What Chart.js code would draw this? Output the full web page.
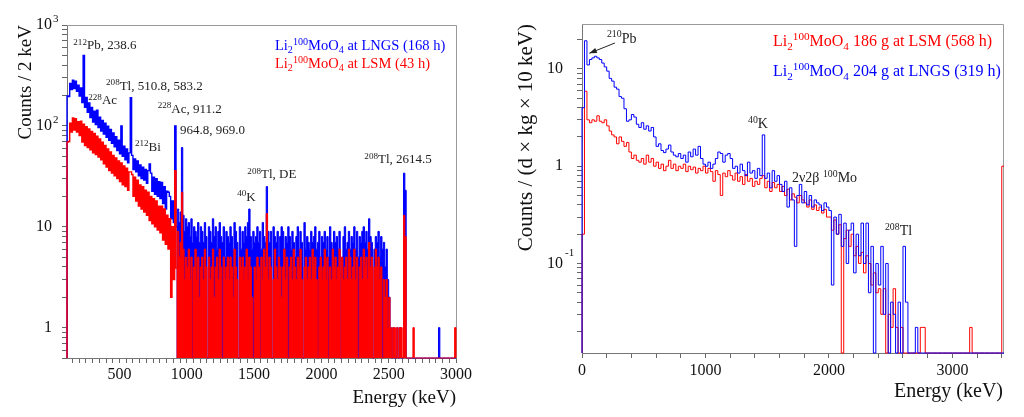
<!DOCTYPE html>
<html lang="en">
<head>
<meta charset="utf-8">
<title>Li2100MoO4 background spectra</title>
<script src="https://cdn.jsdelivr.net/npm/chart.js@4.4.1/dist/chart.umd.min.js"></script>
<style>
  html, body { margin: 0; padding: 0; background: #fff; }
  body { position: relative; width: 1024px; height: 417px; overflow: hidden; }
  canvas { position: absolute; top: 0; }
  #spectraLeft { left: 0; }
  #spectraRight { left: 490px; }
</style>
</head>
<body>
<canvas id="spectraLeft" width="480" height="417"></canvas>
<canvas id="spectraRight" width="534" height="417"></canvas>
<script>
const SERIF = "'Liberation Serif', 'Times New Roman', serif";
Chart.defaults.font.family = SERIF;
Chart.defaults.color = '#111';

// ---- left panel: counts per bin, 10 keV bins starting at 110 keV
const leftBinStart = 110;
const leftBinWidth = 10;
const leftFillFromKeV = 930;   // above this the spectrum is drawn as a filled histogram
const lngsCounts = [
  198,195,264,229,284,235,277,220,253,198,
  237,170,214,153,191,136,169,121,152,109,
  140,103,131,96,122,89,113,83,106,77,
  99,72,92,67,85,62,78,57,72,53,
  68,50,63,46,59,43,54,39,51,37,
  47,35,45,32,41,30,39,29,37,27,
  36,24,34,22.5,31,21,30,20,28,19,
  27.5,17,25,15,22.5,13.5,20,12,18,11,
  17,10,15,11,14,10,13,9,12,10,
  11,8,12,7,10,9,8,11,7,10,
  9,7,11,8,0,10,9,7,12,8,
  10,6,9,11,8,7,10,5,9,8,
  7,10,8,6,11,9,7,0,10,6,
  9,7,10,8,11,15,8,6,9,7,
  8,10,7,9,6,11,8,7,25,9,
  7,9,0,10,8,7,9,5,8,10,
  9,6,8,7,10,8,6,9,7,5,
  8,10,6,9,7,0,11,6,8,7,
  6,9,7,8,10,6,7,9,5,8,
  7,9,6,8,5,10,7,6,9,7,
  8,6,9,0,5,8,10,6,7,9,
  6,8,7,10,6,9,5,8,7,9,
  10,7,9,6,12,8,7,0,6,8,
  7,9,5,8,6,7,4,6,3,2,
  1,0,1,0,0,1,0,1,0,0,
  34,23,0,0,0,0,0,0,0,0,
  0,0,0,0,0,0,0,0,0,0,
  0,0,0,0,0,0,1,0,0,0,
  0,0,0,0,0,0,0,0,0
];
const lsmCounts = [
  69,70,106,87,120,91,118,87,110,80,
  111,69,104,64,98,61,93,58,88,54,
  84,52,79,49,74,46,69,42,64,39,
  59,36,55,34,51,32,48,30,45,28,
  43,26,40,25,38,23,35,22,33,20,
  31,18,29,16,26,15,25,14,23,13,
  22,11.5,20,10.7,19,10,18,9.3,16,8.7,
  16,7.4,15,6.7,13,6,12,2,10,3,
  10.4,3.9,9,5,7,4,6,3,5,4,
  6,3,5,0,4,6,3,5,2,4,
  5,3,6,4,0,5,3,4,6,2,
  4,5,3,6,4,0,5,3,4,5,
  3,5,4,2,6,4,3,0,5,4,
  5,3,4,6,3,5,4,2,0,4,
  3,5,4,0,5,3,6,4,13,3,
  5,4,0,3,6,4,3,5,4,2,
  4,6,3,5,0,4,5,3,6,4,
  3,5,4,6,3,0,4,5,3,4,
  5,3,6,4,5,3,0,4,5,3,
  4,6,3,5,0,4,3,6,4,5,
  3,4,6,0,5,3,4,5,3,6,
  5,3,4,6,3,5,0,4,5,3,
  6,4,5,3,7,4,5,0,4,6,
  4,5,3,4,0,3,2,3,1,2,
  1,0,1,1,0,1,0,1,1,0,
  13,8,0,0,0,0,0,1,0,0,
  0,0,0,0,0,0,0,0,0,0,
  0,0,0,0,0,0,0,0,0,0,
  0,0,0,0,0,0,0,0,1
];
// gamma lines sitting on top of the continuum (keV, counts)
const lngsPeakEnergies = [238.6, 338.3, 510.8, 583.2, 727.3, 860.6, 911.2, 964.8, 1460.8, 1592.5];
const lngsPeakCounts   = [500, 143, 100, 190, 42, 22, 100, 61, 15, 25];
const lsmPeakEnergies  = [583.2, 911.2, 964.8, 1592.5];
const lsmPeakCounts    = [35, 36, 22, 13.5];
const leftXLabels = [500, 1000, 1500, 2000, 2500, 3000];

// ---- right panel: counts / (d x kg x 10 keV), 20 keV bins starting at 0
const rightBinStart = 0;
const rightBinWidth = 20;
const lsm186Rate = [
  0.2, 5.9, 3.0, 2.8, 3.0, 2.9, 3.3, 2.9, 2.8, 3.0,
  2.6, 2.3, 2.1, 2.0, 1.7, 2.0, 1.8, 1.6, 1.75, 1.4,
  1.2, 1.3, 1.15, 1.1, 1.2, 1.05, 1.3, 1.1, 1.2, 1.0,
  1.1, 0.95, 1.05, 0.9, 1.0, 1.15, 0.95, 1.05, 0.9, 1.0,
  0.95, 1.05, 0.88, 1.0, 0.92, 0.98, 0.85, 0.95, 0.9, 1.0,
  0.85, 0.95, 0.88, 0.7, 0.9, 0.82, 0.5, 0.85, 0.78, 0.9,
  0.8, 0.72, 0.85, 0.7, 0.78, 0.65, 0.82, 0.7, 0.75, 0.62,
  0.7, 0.65, 0.75, 0.8, 0.6, 0.7, 0.55, 0.68, 0.6, 0.65,
  0.55, 0.62, 0.5, 0.58, 0.45, 0.52, 0.48, 0.42, 0.5, 0.45,
  0.42, 0.38, 0.45, 0.36, 0.4, 0.35, 0.38, 0.33, 0.36, 0.3,
  0.3, 0.22, 0.28, 0.2, 0.25, 0, 0.18, 0.22, 0.15, 0.2,
  0.12, 0.15, 0.1, 0.13, 0.08, 0.12, 0.1, 0.06, 0.08, 0.05,
  0.055, 0.03, 0.055, 0, 0.03, 0.022, 0.055, 0.022, 0, 0.022,
  0, 0, 0, 0, 0, 0, 0, 0.022, 0.022, 0,
  0, 0, 0, 0, 0, 0, 0, 0, 0, 0,
  0, 0, 0, 0, 0, 0, 0, 0.022, 0, 0,
  0, 0, 0, 0, 0, 0, 0, 0, 0, 0,
  1.0
];
const lngs204Rate = [
  4, 19.5, 11, 12.5, 13, 13.5, 13, 12.5, 11.5, 10.5,
  9.5, 8, 7.5, 6.5, 6.2, 5.2, 5.0, 3.9, 2.9, 3.0,
  3.4, 3.2, 2.7, 2.5, 2.8, 2.4, 2.6, 2.3, 2.5, 2.0,
  1.6, 1.7, 1.45, 1.38, 1.5, 1.65, 1.4, 1.3, 1.25, 1.35,
  1.2, 1.3, 1.1, 1.4, 1.25, 1.5, 1.3, 1.6, 1.2, 1.05,
  1.0, 1.1, 0.95, 1.05, 1.2, 1.4, 1.35, 1.1, 1.3, 1.35,
  1.2, 0.95, 1.0, 0.85, 1.05, 0.9, 0.8, 1.1, 0.85, 0.9,
  0.75, 0.95, 0.8, 2.1, 0.75, 0.85, 0.6, 0.9, 0.7, 0.8,
  0.65, 0.55, 0.7, 0.38, 0.6, 0.45, 0.15, 0.5, 0.65, 0.42,
  0.55, 0.4, 0.5, 0.38, 0.45, 0.42, 0.4, 0.35, 0.42, 0.38,
  0.35, 0.06, 0.3, 0.2, 0.32, 0.15, 0.26, 0.1, 0.22, 0.26,
  0.08, 0.2, 0.12, 0.26, 0.1, 0.26, 0.05, 0.15, 0, 0.1,
  0.06, 0.15, 0.03, 0.1, 0, 0.04, 0.03, 0, 0.04, 0,
  0.15, 0.04, 0, 0, 0, 0.022, 0, 0, 0, 0,
  0, 0, 0, 0, 0, 0, 0, 0, 0, 0,
  0, 0, 0, 0, 0, 0, 0, 0, 0, 0,
  0, 0, 0, 0, 0, 0, 0, 0, 0, 0,
  0
];
const rightXLabels = [0, 1000, 2000, 3000];

// rich text pieces: [text, kind]
const txt = s => [s, 'n'];
const sup = s => [s, 'sup'];
const sub = s => [s, 'sub'];
const li2MoO4 = [txt('Li'), sub('2'), sup('100'), txt('MoO'), sub('4')];

const leftNotes = [
  { x: 1655, y: 565, color: '#0000ff', size: 14.5, parts: [...li2MoO4, txt(' at LNGS (168 h)')] },
  { x: 1655, y: 375, color: '#ff0000', size: 14.5, parts: [...li2MoO4, txt(' at LSM (43 h)')] },
  { x: 157, y: 574, parts: [sup('212'), txt('Pb, 238.6')] },
  { x: 268, y: 164, parts: [sup('228'), txt('Ac')] },
  { x: 400, y: 227, parts: [sup('208'), txt('Tl, 510.8, 583.2')] },
  { x: 784, y: 134, parts: [sup('228'), txt('Ac, 911.2')] },
  { x: 950, y: 82.6, parts: [txt('964.8, 969.0')] },
  { x: 615, y: 56.4, parts: [sup('212'), txt('Bi')] },
  { x: 1375, y: 18.0, parts: [sup('40'), txt('K')] },
  { x: 1450, y: 30.3, parts: [sup('208'), txt('Tl, DE')] },
  { x: 2319, y: 42.6, parts: [sup('208'), txt('Tl, 2614.5')] }
];
const rightNotes = [
  { x: 1547, y: 17.2, color: '#ff0000', size: 16, parts: [...li2MoO4, txt(' 186 g at LSM (568 h)')] },
  { x: 1547, y: 8.46, color: '#0000ff', size: 16, parts: [...li2MoO4, txt(' 204 g at LNGS (319 h)')] },
  { x: 202, y: 18.7, size: 14, parts: [sup('210'), txt('Pb')] },
  { x: 1345, y: 2.47, size: 14, parts: [sup('40'), txt('K')] },
  { x: 1701, y: 0.68, size: 14, parts: [txt('2\u03bd2\u03b2 '), sup('100'), txt('Mo')] },
  { x: 2454, y: 0.196, size: 14, parts: [sup('208'), txt('Tl')] }
];
const rightArrows = [{ from: [267, 18.5], to: [59, 14.5] }];

function withPeaks(start, width, values, peakE, peakH) {
  const out = values.slice();
  peakE.forEach((e, k) => {
    const i = Math.floor((e - start) / width);
    out[i] = Math.max(out[i], peakH[k]);
  });
  return out;
}

// step histogram; empty bins sit on the bottom of the log axis
function histogram(start, width, values, floor) {
  const lvl = v => (v > 0 ? v : floor);
  const pts = [{ x: start, y: floor }];
  values.forEach((v, i) => pts.push({ x: start + i * width, y: lvl(v) }));
  const end = start + values.length * width;
  pts.push({ x: end, y: lvl(values[values.length - 1]) });
  pts.push({ x: end, y: floor });
  return pts;
}

function linearTicks(from, to, step) {
  const out = [];
  for (let v = from; v <= to + 1e-9; v += step) out.push({ value: v });
  return out;
}

function logTicks(min, max) {
  const out = [];
  for (let e = Math.floor(Math.log10(min)); e <= Math.ceil(Math.log10(max)); e++) {
    for (let m = 1; m <= 9; m++) {
      const v = +(m * Math.pow(10, e)).toPrecision(6);
      if (v >= min && v <= max) out.push({ value: v });
    }
  }
  return out;
}

function isDecade(v) {
  const l = Math.log10(v);
  return Math.abs(l - Math.round(l)) < 1e-6;
}

function drawRich(ctx, x, y, parts, color, size) {
  let cx = x;
  ctx.fillStyle = color;
  ctx.textAlign = 'left';
  ctx.textBaseline = 'alphabetic';
  parts.forEach(([s, kind]) => {
    const fs = kind === 'n' ? size : size * 0.7;
    const dy = kind === 'sup' ? -size * 0.36 : kind === 'sub' ? size * 0.24 : 0;
    ctx.font = fs + 'px ' + SERIF;
    ctx.fillText(s, cx, y + dy);
    cx += ctx.measureText(s).width;
  });
}

function decor(cfg) {
  return {
    id: 'decor',
    beforeDatasetsDraw(chart) {
      const { ctx, chartArea: a } = chart;
      ctx.save();
      ctx.strokeStyle = '#9a9a9a';
      ctx.lineWidth = 1;
      ctx.beginPath();
      ctx.moveTo(a.left, a.top + 0.5);
      ctx.lineTo(a.right + 0.5, a.top + 0.5);
      ctx.lineTo(a.right + 0.5, a.bottom);
      ctx.stroke();
      ctx.restore();
    },
    afterDraw(chart) {
      const { ctx, chartArea: a, scales: { x, y } } = chart;
      ctx.save();
      // exponents of the 10^n tick labels
      ctx.fillStyle = '#111';
      ctx.textAlign = 'left';
      ctx.textBaseline = 'middle';
      ctx.font = cfg.expSize + 'px ' + SERIF;
      y.ticks.forEach(t => {
        if (!isDecade(t.value)) return;
        const n = Math.round(Math.log10(t.value));
        if (n === 0 || n === 1) return;
        ctx.fillText(String(n), a.left - cfg.labelGap + cfg.expShift, y.getPixelForValue(t.value) - cfg.expRise);
      });
      cfg.notes.forEach(nt => {
        drawRich(ctx, x.getPixelForValue(nt.x), y.getPixelForValue(nt.y), nt.parts, nt.color || '#222', nt.size || 13);
      });
      (cfg.arrows || []).forEach(ar => {
        const x0 = x.getPixelForValue(ar.from[0]), y0 = y.getPixelForValue(ar.from[1]);
        const x1 = x.getPixelForValue(ar.to[0]), y1 = y.getPixelForValue(ar.to[1]);
        const ang = Math.atan2(y1 - y0, x1 - x0);
        ctx.strokeStyle = '#222';
        ctx.fillStyle = '#222';
        ctx.lineWidth = 1;
        ctx.beginPath();
        ctx.moveTo(x0, y0);
        ctx.lineTo(x1, y1);
        ctx.stroke();
        ctx.beginPath();
        ctx.moveTo(x1, y1);
        ctx.lineTo(x1 - 8 * Math.cos(ang - 0.35), y1 - 8 * Math.sin(ang - 0.35));
        ctx.lineTo(x1 - 8 * Math.cos(ang + 0.35), y1 - 8 * Math.sin(ang + 0.35));
        ctx.closePath();
        ctx.fill();
      });
      ctx.restore();
    }
  };
}

function histDataset(label, points, color, order, filled, width) {
  return {
    label, data: points, borderColor: color, backgroundColor: color,
    borderWidth: width || 1, pointRadius: 0, pointHoverRadius: 0,
    fill: filled ? 'start' : false,
    stepped: true, tension: 0, clip: 1, order
  };
}

// low-energy part as a plain step line, high-energy part filled down to the axis
function splitHistogram(label, start, width, values, floor, splitKeV, color, order) {
  const k = Math.round((splitKeV - start) / width);
  return [
    histDataset(label, histogram(start, width, values.slice(0, k), floor), color, order, false, 1.4),
    histDataset(label, histogram(start + k * width, width, values.slice(k), floor), color, order + 1, true, 1)
  ];
}

function axes(o) {
  return {
    x: {
      type: 'linear', min: o.xMin, max: o.xMax, bounds: 'data',
      afterBuildTicks: s => { s.ticks = o.xTicks; },
      afterFit: s => { s.height = o.xHeight; },
      grid: { display: true, drawOnChartArea: false, tickLength: 5, tickColor: '#666' },
      border: { display: true, color: '#777' },
      ticks: {
        autoSkip: false, maxRotation: 0, padding: o.xPad, color: '#111',
        font: { size: 16, family: SERIF },
        callback: v => (o.xLabels.includes(v) ? String(v) : '')
      },
      title: {
        display: true, text: 'Energy (keV)', align: 'end', color: '#111',
        font: { size: o.xTitleSize, family: SERIF }, padding: { top: 0, bottom: o.xTitlePad }
      }
    },
    y: {
      type: 'logarithmic', min: o.yMin, max: o.yMax, bounds: 'data',
      afterBuildTicks: s => { s.ticks = logTicks(o.yMin, o.yMax); },
      afterFit: s => { s.width = o.yWidth; },
      grid: { display: true, drawOnChartArea: false, tickLength: 5, tickColor: '#666' },
      border: { display: true, color: '#777' },
      ticks: {
        autoSkip: false, padding: o.yPad, color: '#111', font: { size: 16, family: SERIF },
        callback: v => (isDecade(v) ? (Math.round(Math.log10(v)) === 0 ? '1' : '10') : '')
      },
      title: {
        display: true, text: o.yTitle, align: 'end', color: '#111',
        font: { size: o.yTitleSize, family: SERIF }, padding: { top: o.yTitlePad, bottom: 0 }
      }
    }
  };
}

const leftYMin = 0.5, leftYMax = 1000;
new Chart(document.getElementById('spectraLeft'), {
  type: 'line',
  data: {
    datasets: [
      ...splitHistogram('Li2100MoO4 at LSM (43 h)', leftBinStart, leftBinWidth,
        withPeaks(leftBinStart, leftBinWidth, lsmCounts, lsmPeakEnergies, lsmPeakCounts),
        leftYMin, leftFillFromKeV, '#ff0000', 0),
      ...splitHistogram('Li2100MoO4 at LNGS (168 h)', leftBinStart, leftBinWidth,
        withPeaks(leftBinStart, leftBinWidth, lngsCounts, lngsPeakEnergies, lngsPeakCounts),
        leftYMin, leftFillFromKeV, '#0000ff', 2)
    ]
  },
  options: {
    responsive: false,
    animation: false,
    events: [],
    layout: { padding: { left: 0, right: 24, top: 25, bottom: 0 } },
    plugins: { legend: { display: false }, tooltip: { enabled: false } },
    scales: axes({
      xMin: 110, xMax: 3000, xTicks: linearTicks(150, 3000, 50), xLabels: leftXLabels,
      xHeight: 59, xPad: 2, xTitleSize: 19, xTitlePad: 8,
      yMin: leftYMin, yMax: leftYMax, yWidth: 67, yPad: 10,
      yTitle: 'Counts / 2 keV', yTitleSize: 19, yTitlePad: 15
    })
  },
  plugins: [decor({ notes: leftNotes, labelGap: 15, expShift: 1, expRise: 6, expSize: 11 })]
});

const rightYMin = 0.012, rightYMax = 29;
new Chart(document.getElementById('spectraRight'), {
  type: 'line',
  data: {
    datasets: [
      histDataset('Li2100MoO4 204 g at LNGS (319 h)',
        histogram(rightBinStart, rightBinWidth, lngs204Rate, rightYMin), '#0000ff', 0, false),
      histDataset('Li2100MoO4 186 g at LSM (568 h)',
        histogram(rightBinStart, rightBinWidth, lsm186Rate, rightYMin), '#ff0000', 1, false)
    ]
  },
  options: {
    responsive: false,
    animation: false,
    events: [],
    layout: { padding: { left: 0, right: 21, top: 24, bottom: 0 } },
    plugins: { legend: { display: false }, tooltip: { enabled: false } },
    scales: axes({
      xMin: 0, xMax: 3410, xTicks: linearTicks(0, 3400, 200), xLabels: rightXLabels,
      xHeight: 64, xPad: 3, xTitleSize: 20, xTitlePad: 13,
      yMin: rightYMin, yMax: rightYMax, yWidth: 92, yPad: 14,
      yTitle: 'Counts / (d \u00d7 kg \u00d7 10 keV)', yTitleSize: 21, yTitlePad: 24
    })
  },
  plugins: [decor({ notes: rightNotes, arrows: rightArrows, labelGap: 19, expShift: 2, expRise: 10, expSize: 11 })]
});
</script>
</body>
</html>
